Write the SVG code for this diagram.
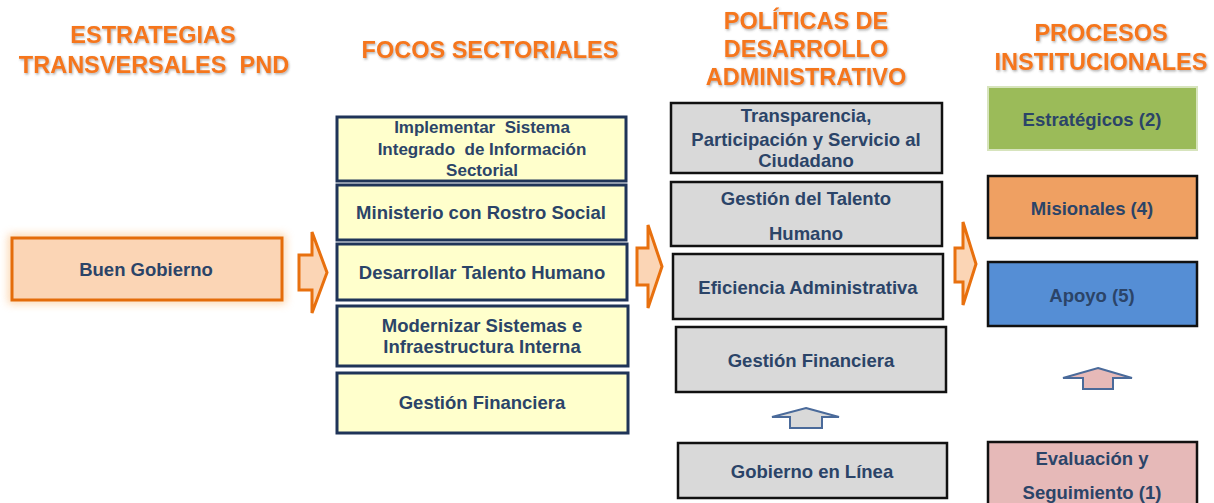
<svg xmlns="http://www.w3.org/2000/svg" width="1214" height="503" viewBox="0 0 1214 503">
<defs>
<style>
.hd{font-family:"Liberation Sans",Arial,sans-serif;font-weight:bold;font-size:23.5px;fill:#F5761A;text-anchor:middle;white-space:pre}
.t{font-family:"Liberation Sans",Arial,sans-serif;font-weight:bold;font-size:18.5px;fill:#2B4468;text-anchor:middle;white-space:pre}
.foco{fill:#FFFFCC;stroke:#1F3458;stroke-width:3}
.pol{fill:#D9D9D9;stroke:#111;stroke-width:2.5}
.proc{stroke:#111;stroke-width:2.5}
.rarr{fill:#FBD5B5;stroke:#E8700E;stroke-width:3;stroke-linejoin:miter}
.uarr{stroke:#4A6A9A;stroke-width:2;stroke-linejoin:miter}
</style>
<filter id="sh" x="-10%" y="-30%" width="120%" height="160%">
<feDropShadow dx="1" dy="1.5" stdDeviation="1" flood-color="#555" flood-opacity="0.45"/>
</filter>
<filter id="glow" x="-20%" y="-50%" width="140%" height="200%">
<feGaussianBlur stdDeviation="4"/>
</filter>
</defs>
<rect width="1214" height="503" fill="#fff"/>

<g id="headings" filter="url(#sh)">
<text class="hd" x="153" y="43">ESTRATEGIAS</text>
<text class="hd" x="154" y="73">TRANSVERSALES  PND</text>
<text class="hd" x="490" y="58">FOCOS SECTORIALES</text>
<text class="hd" x="806" y="29">POLÍTICAS DE</text>
<text class="hd" x="806" y="57">DESARROLLO</text>
<text class="hd" x="806" y="85">ADMINISTRATIVO</text>
<text class="hd" x="1101" y="41">PROCESOS</text>
<text class="hd" x="1101" y="70">INSTITUCIONALES</text>
</g>

<g id="buen-gobierno">
<rect x="12" y="238" width="270" height="62" fill="none" stroke="#FBC58D" stroke-width="7" opacity="0.8" filter="url(#glow)"/>
<rect x="12" y="238" width="270" height="62" fill="#FBD5B5" stroke="#E46C0A" stroke-width="3"/>
<text class="t" x="146" y="276">Buen Gobierno</text>
</g>

<g id="foco-1">
<rect class="foco" x="337" y="117" width="289" height="64"/>
<text class="t" style="font-size:17px" x="482" y="133">Implementar  Sistema</text>
<text class="t" style="font-size:17px" x="482" y="155">Integrado  de Información</text>
<text class="t" style="font-size:17px" x="482" y="176">Sectorial</text>
</g>
<g id="foco-2">
<rect class="foco" x="337" y="185" width="289" height="55"/>
<text class="t" x="481" y="219">Ministerio con Rostro Social</text>
</g>
<g id="foco-3">
<rect class="foco" x="337" y="244" width="290" height="56"/>
<text class="t" x="482" y="279">Desarrollar Talento Humano</text>
</g>
<g id="foco-4">
<rect class="foco" x="337" y="306" width="291" height="60"/>
<text class="t" x="482" y="332">Modernizar Sistemas e</text>
<text class="t" x="482" y="353">Infraestructura Interna</text>
</g>
<g id="foco-5">
<rect class="foco" x="337" y="373" width="291" height="60"/>
<text class="t" x="482" y="409">Gestión Financiera</text>
</g>

<g id="pol-1">
<rect class="pol" x="671" y="103" width="271" height="70"/>
<text class="t" x="806" y="122">Transparencia,</text>
<text class="t" x="806" y="146">Participación y Servicio al</text>
<text class="t" x="806" y="167">Ciudadano</text>
</g>
<g id="pol-2">
<rect class="pol" x="671" y="182" width="271" height="64"/>
<text class="t" x="806" y="205">Gestión del Talento</text>
<text class="t" x="806" y="240">Humano</text>
</g>
<g id="pol-3">
<rect class="pol" x="673" y="254" width="270" height="65"/>
<text class="t" x="808" y="294">Eficiencia Administrativa</text>
</g>
<g id="pol-4">
<rect class="pol" x="676" y="327" width="270" height="65"/>
<text class="t" x="811" y="367">Gestión Financiera</text>
</g>
<g id="pol-5">
<rect class="pol" x="678" y="443" width="269" height="55"/>
<text class="t" x="812" y="478">Gobierno en Línea</text>
</g>

<g id="proc-estrategicos">
<rect x="988" y="87" width="209" height="63" fill="#9BBB59" stroke="#D7E4BD" stroke-width="2"/>
<text class="t" x="1092" y="126">Estratégicos (2)</text>
</g>
<g id="proc-misionales">
<rect class="proc" x="988" y="176" width="209" height="62" fill="#EFA062"/>
<text class="t" x="1092" y="215">Misionales (4)</text>
</g>
<g id="proc-apoyo">
<rect class="proc" x="988" y="262" width="209" height="64" fill="#558ED5"/>
<text class="t" x="1092" y="302">Apoyo (5)</text>
</g>
<g id="proc-evaluacion">
<rect class="proc" x="988" y="442" width="209" height="70" fill="#E6B9B8"/>
<text class="t" x="1092" y="465">Evaluación y</text>
<text class="t" x="1092" y="499">Seguimiento (1)</text>
</g>

<g id="connectors">
<path class="rarr" d="M299,255 L312,255 L312,232 L327,272.5 L312,313 L312,290 L299,290 Z"/>
<path class="rarr" d="M637,248 L648,248 L648,225 L662,266.5 L648,308 L648,285 L637,285 Z"/>
<path class="rarr" d="M955,248 L963,248 L963,222 L976,264 L963,305 L963,282 L955,282 Z"/>
<path class="uarr" fill="#D9D9D9" d="M806,408 L839,417 L822,417 L822,428 L790,428 L790,417 L772,417 Z"/>
<path class="uarr" fill="#E6B9B8" d="M1098,368 L1132,378 L1113,378 L1113,389 L1083,389 L1083,378 L1063,378 Z"/>
</g>
</svg>
